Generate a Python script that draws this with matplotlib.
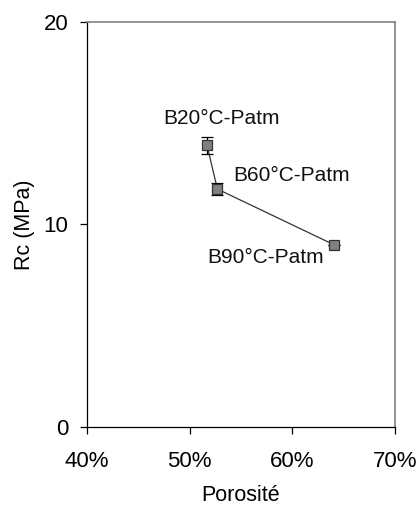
import matplotlib
matplotlib.use('Agg')
import matplotlib.pyplot as plt
from matplotlib.ticker import FuncFormatter

plt.rcParams['font.family'] = ['Liberation Sans', 'DejaVu Sans']

# data
labels = ['B20°C-Patm', 'B60°C-Patm', 'B90°C-Patm']
porosity = [51.7, 52.7, 64.05]      # %
rc = [13.9, 11.75, 9.0]             # MPa
rc_err = [0.4, 0.3, 0.0]
label_x = [47.4, 54.2, 51.7]
label_y = [15.25, 12.4, 8.35]

fig = plt.figure(figsize=(4.18, 5.05), dpi=100)
ax = fig.add_axes([0.208, 0.1545, 0.737, 0.802])

ax.plot(porosity, rc, color='#333333', linewidth=0.9, zorder=2)
ax.errorbar(porosity, rc, yerr=rc_err, fmt='none', ecolor='black',
            elinewidth=0.9, capsize=4, capthick=0.9, zorder=3)
ax.plot(porosity, rc, linestyle='none', marker='s', markersize=7.5,
        markerfacecolor='#808080', markeredgecolor='#333333',
        markeredgewidth=0.9, zorder=4)

for name, x, y in zip(labels, label_x, label_y):
    ax.text(x, y, name, fontsize=15, ha='left', va='center', color='#111111')

ax.set_xlim(40, 70)
ax.set_ylim(0, 20)
ax.set_xticks([40, 50, 60, 70])
ax.set_yticks([0, 10, 20])
ax.xaxis.set_major_formatter(FuncFormatter(lambda v, p: f'{v:.0f}%'))
ax.tick_params(direction='out', length=5, width=0.9, labelsize=16,
               colors='black')
ax.tick_params(axis='x', pad=12)
ax.tick_params(axis='y', pad=8.5)

for side in ['left', 'bottom']:
    ax.spines[side].set_color('black')
    ax.spines[side].set_linewidth(0.9)
for side in ['top', 'right']:
    ax.spines[side].set_color('#808080')
    ax.spines[side].set_linewidth(1.2)

ax.set_xlabel('Porosité', fontsize=15.5, labelpad=10)
ax.set_ylabel('Rc (MPa)', fontsize=15.5, labelpad=6)

fig.savefig('out.png', dpi=100)
